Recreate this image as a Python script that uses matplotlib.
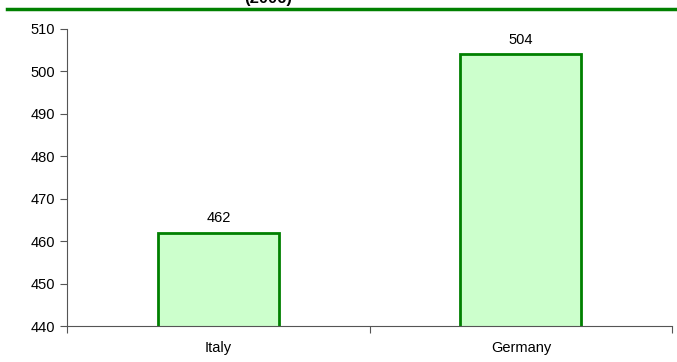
import matplotlib.pyplot as plt
from matplotlib.lines import Line2D

# Valores por país
paises = ['Italy', 'Germany']
valores = [462, 504]
ano = '(2006)'

plt.rcParams['font.family'] = ['Liberation Sans', 'DejaVu Sans']

fig = plt.figure(figsize=(6.77, 3.62), dpi=100)
ax = fig.add_axes([0.099, 0.0994, 0.894, 0.8205])

# Barras
pos = [0.5, 1.5]
ax.bar(pos, valores, width=0.4, color='#ccffcc', edgecolor='#008000', linewidth=2)
for x, v in zip(pos, valores):
    ax.annotate(str(v), (x, v), xytext=(0, 5.5), textcoords='offset points',
                ha='center', va='bottom', fontsize=10.5)

ax.set_xlim(0, 2)
ax.set_ylim(440, 510)
ax.set_yticks(range(440, 511, 10))
ax.set_xticks([0, 1, 2])
ax.set_xticklabels([])
ax.set_xticks(pos, minor=True)
ax.set_xticklabels(paises, minor=True)
ax.tick_params(axis='x', which='minor', length=0, pad=11, labelsize=10.5)
ax.tick_params(axis='x', which='major', length=5, color='#555555')
ax.tick_params(axis='y', length=5, color='#555555', labelsize=10.5)

for s in ['top', 'right']:
    ax.spines[s].set_visible(False)
for s in ['left', 'bottom']:
    ax.spines[s].set_color('#555555')

# Título (cortado no topo) e linha verde
fig.text(268 / 677, 1 - 3 / 362, ano, ha='center', va='baseline',
         fontsize=12, fontweight='bold')
fig.add_artist(Line2D([7 / 677, 1], [1 - 9 / 362, 1 - 9 / 362],
                      color='#008000', linewidth=2.5, transform=fig.transFigure))

plt.savefig('out.png', dpi=100)
